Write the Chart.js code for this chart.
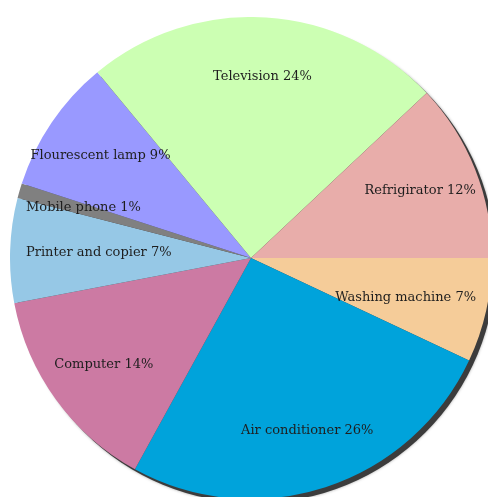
<!DOCTYPE html>
<html lang="en">
<head>
    <meta charset="UTF-8">
    <title>Energy use by appliance</title>
    <script src="https://cdn.jsdelivr.net/npm/chart.js"></script>
    <style>
        html, body {
            margin: 0;
            padding: 0;
            background: #fff;
            overflow: hidden;
            width: 488px;
            height: 497px;
        }
        #chartBox {
            position: absolute;
            left: 10px;
            top: 17px;
            width: 482px;
            height: 482px;
        }
    </style>
</head>
<body>

    <div id="chartBox">
        <canvas id="pieChart"></canvas>
    </div>

    <script>
        // Slices in counter-clockwise order, starting at 3 o'clock
        const categories = ['Refrigirator', 'Television', 'Flourescent lamp', 'Mobile phone',
                            'Printer and copier', 'Computer', 'Air conditioner', 'Washing machine'];
        const shares = [12, 24, 9, 1, 7, 14, 26, 7];
        const sliceColors = ['#E8ADAA', '#CCFFB3', '#9999FF', '#808080',
                             '#96C8E6', '#CC7AA3', '#00A3DB', '#F5CC99'];

        // Chart.js draws clockwise, so feed it reversed
        const labels = categories.slice().reverse();
        const values = shares.slice().reverse();
        const colors = sliceColors.slice().reverse();

        // dark shadow under the whole pie
        const pieShadow = {
            id: 'pieShadow',
            beforeDatasetsDraw(chart) {
                const arc = chart.getDatasetMeta(0).data[0];
                if (!arc) return;
                const ctx = chart.ctx;
                ctx.save();
                ctx.fillStyle = '#3c3c3c';
                ctx.shadowColor = 'rgba(0,0,0,0.35)';
                ctx.shadowBlur = 3;
                ctx.beginPath();
                ctx.arc(arc.x + 4, arc.y + 4, arc.outerRadius, 0, Math.PI * 2);
                ctx.fill();
                ctx.restore();
            }
        };

        // label text inside each slice
        const sliceLabels = {
            id: 'sliceLabels',
            afterDatasetsDraw(chart) {
                const ctx = chart.ctx;
                const meta = chart.getDatasetMeta(0);
                const canvasLeft = chart.canvas.getBoundingClientRect().left;
                ctx.save();
                ctx.font = '13px "DejaVu Serif", serif';
                ctx.fillStyle = '#1e1e1e';
                ctx.textAlign = 'center';
                ctx.textBaseline = 'middle';
                meta.data.forEach((arc, i) => {
                    const mid = (arc.startAngle + arc.endAngle) / 2;
                    const r = arc.outerRadius * 0.755;
                    let x = arc.x + Math.cos(mid) * r;
                    const y = arc.y + Math.sin(mid) * r;
                    const text = labels[i] + ' ' + values[i] + '%';
                    const w = ctx.measureText(text).width;
                    // keep text inside the visible window
                    const minX = arc.x - arc.outerRadius + 16 + w / 2;
                    const maxX = 476 - canvasLeft - w / 2;
                    x = Math.min(Math.max(x, minX), maxX);
                    ctx.fillText(text, x, y);
                });
                ctx.restore();
            }
        };

        const ctx = document.getElementById('pieChart').getContext('2d');
        new Chart(ctx, {
            type: 'pie',
            data: {
                labels: labels,
                datasets: [{
                    data: values,
                    backgroundColor: colors,
                    borderWidth: 0,
                    hoverBorderWidth: 0,
                    hoverOffset: 0
                }]
            },
            options: {
                responsive: true,
                maintainAspectRatio: false,
                animation: false,
                rotation: 90,
                layout: { padding: 0 },
                plugins: {
                    legend: { display: false },
                    tooltip: { enabled: false }
                }
            },
            plugins: [pieShadow, sliceLabels]
        });
    </script>

</body>
</html>
